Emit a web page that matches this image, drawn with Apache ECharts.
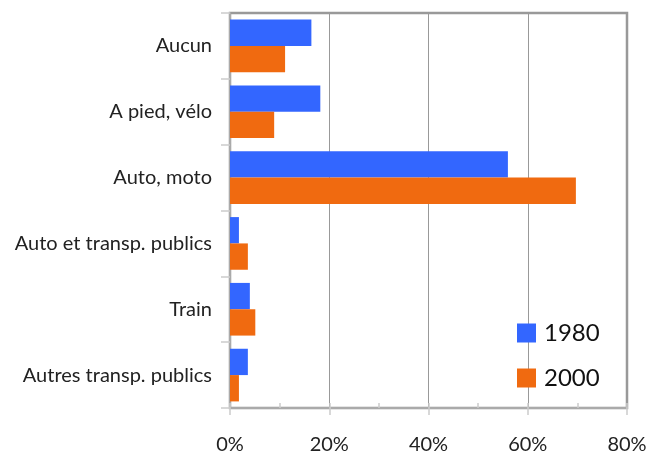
<!DOCTYPE html>
<html><head><meta charset="utf-8">
<script src="https://cdn.jsdelivr.net/npm/echarts@6/dist/echarts.min.js"></script>
<style>html,body{margin:0;padding:0;background:#fff}#c{width:650px;height:455px}</style>
</head><body><div id="c"></div>
<script>
const categories = ["Aucun", "A pied, vélo", "Auto, moto", "Auto et transp. publics", "Train", "Autres transp. publics"];
const values1980 = [16.4, 18.2, 56.0, 1.8, 4.0, 3.6];
const values2000 = [11.1, 8.9, 69.7, 3.6, 5.1, 1.8];
const seriesNames = ["1980", "2000"];
const xTicks = [0, 20, 40, 60, 80];

const chart = echarts.init(document.getElementById('c'));
chart.setOption({
  animation: false,
  backgroundColor: '#fff',
  grid: { left: 230, top: 13, right: 23, bottom: 47, show: true, borderColor: '#999', borderWidth: 2.5, containLabel: false },
  legend: {
    orient: 'vertical', left: 517, top: 321, padding: 0, itemWidth: 19, itemHeight: 19,
    itemGap: 21, icon: 'rect', data: seriesNames,
    textStyle: { fontFamily: 'Lato', fontSize: 24, lineHeight: 19, color: '#111', padding: [0, 0, 0, 3] }
  },
  xAxis: [{
    type: 'value', min: xTicks[0], max: xTicks[xTicks.length - 1], interval: 20,
    axisLine: { show: true, lineStyle: { color: '#aaa', width: 2 } },
    axisTick: { show: true, length: 7, lineStyle: { color: '#ccc', width: 1.5 } },
    splitLine: { show: true, lineStyle: { color: '#999', width: 1 } },
    axisLabel: { formatter: '{value}%', fontFamily: 'Lato', fontSize: 20, color: '#222', margin: 27 }
  }, {
    type: 'value', min: 0, max: 80, interval: 10, position: 'bottom',
    axisLine: { show: false },
    axisTick: { show: true, inside: true, length: 5, lineStyle: { color: '#ccc', width: 1.5 } },
    splitLine: { show: false }, axisLabel: { show: false }
  }],
  yAxis: {
    type: 'category', data: categories, inverse: true,
    axisLine: { show: true, lineStyle: { color: '#aaa', width: 2 } },
    axisTick: { show: true, length: 9, lineStyle: { color: '#ccc', width: 1.5 } },
    axisLabel: { fontFamily: 'Lato', fontSize: 20, color: '#222', margin: 18 }
  },
  series: [
    { name: seriesNames[0], type: 'bar', data: values1980, itemStyle: { color: '#3366FF' }, barGap: '0%', barCategoryGap: '20%' },
    { name: seriesNames[1], type: 'bar', data: values2000, itemStyle: { color: '#F06A10' }, barGap: '0%', barCategoryGap: '20%' }
  ]
});
</script></body></html>
